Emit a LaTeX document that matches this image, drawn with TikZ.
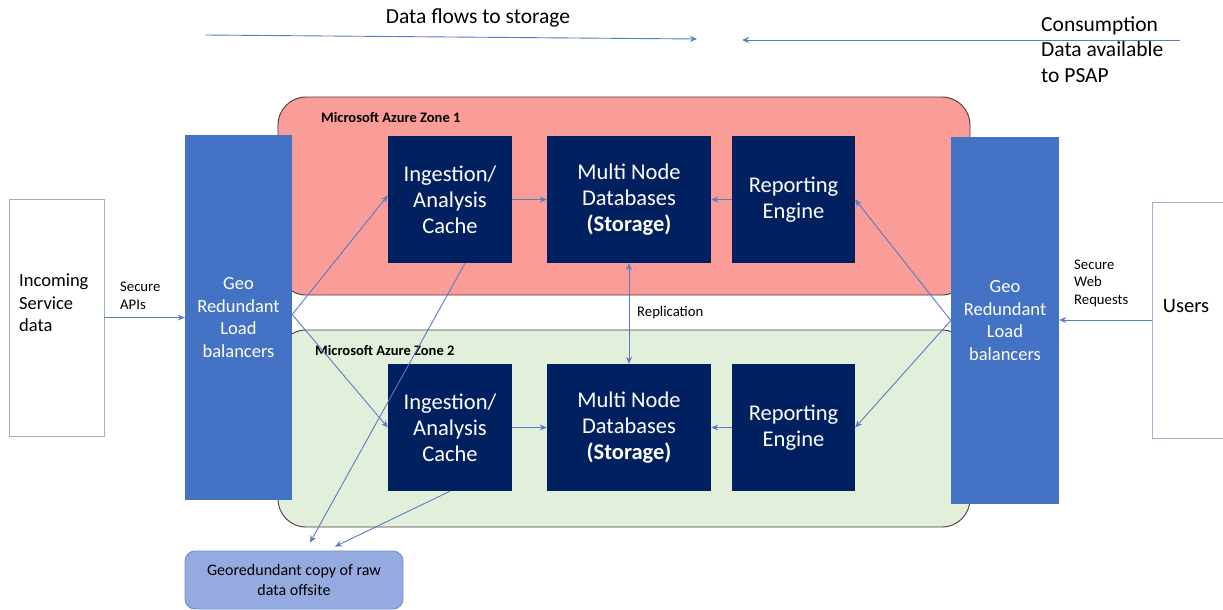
\documentclass[tikz,border=0pt]{standalone}
\usepackage{fontspec}
\setmainfont{Carlito}
\usetikzlibrary{arrows.meta}

\definecolor{navybox}{HTML}{002060}
\definecolor{lbblue}{HTML}{4472C4}
\definecolor{zonered}{HTML}{FA9C98}
\definecolor{zonegreen}{HTML}{E2EFDA}
\definecolor{offfill}{HTML}{95ABDF}
\definecolor{offline}{HTML}{7090CF}
\definecolor{plainline}{HTML}{9CB0CC}
\definecolor{flow}{HTML}{5B7CC4}
\definecolor{zoneline}{HTML}{4A3A3A}

\tikzset{
  zone/.style={draw=zoneline, line width=0.9pt, rounded corners=28pt, minimum width=692pt, inner sep=0pt},
  navy/.style={fill=navybox, text=white, minimum height=127pt, inner sep=0pt, align=center,
               font=\fontsize{22.5}{26}\selectfont},
  lb/.style={fill=lbblue, text=white, inner sep=0pt, align=center,
             font=\fontsize{18.5}{22.8}\selectfont},
  plainbox/.style={draw=plainline, fill=white, line width=0.9pt, inner sep=0pt},
  bigtxt/.style={inner sep=0pt, align=left, font=\fontsize{18.5}{22.5}\selectfont},
  smalltxt/.style={inner sep=0pt, align=left, font=\fontsize{14.7}{17.5}\selectfont},
  zonelabel/.style={inner sep=0pt, anchor=west, font=\fontsize{14.5}{16}\selectfont\bfseries},
  toptxt/.style={inner sep=0pt, align=left, font=\fontsize{21.5}{25.5}\selectfont},
  flowarrow/.style={draw=flow, line width=0.9pt, -{Stealth[length=7pt,width=6pt]}},
}

\begin{document}
\begin{tikzpicture}[x=1pt, y=-1pt]
\clip (0,0) rectangle (1223,610);
\fill[white] (0,0) rectangle (1223,610);

% availability zones
\node[zone, fill=zonered, minimum height=198pt] (z1) at (624,196) {};
\node[zone, fill=zonegreen, minimum height=197pt] (z2) at (624,428.5) {};
\node[zonelabel] (z1lab) at (321,117) {Microsoft Azure Zone 1};
\node[zonelabel] (z2lab) at (315,350) {Microsoft Azure Zone 2};

% outside parties
\node[plainbox, minimum width=95pt, minimum height=237pt] (inc) at (56.5,317.5) {};
\node[bigtxt, anchor=west] (inctxt) at (19,303) {Incoming\\Service\\data};
\node[plainbox, minimum width=80pt, minimum height=236pt] (users) at (1192,320) {};
\node[bigtxt, font=\fontsize{20.5}{24}\selectfont, anchor=center] (userstxt) at (1186,306) {Users};

% load balancers
\node[lb, minimum width=107pt, minimum height=365pt] (lbL) at (238.5,317.5) {Geo\\Redundant\\Load\\balancers};
\node[lb, minimum width=108pt, minimum height=367pt] (lbR) at (1005,320.5) {Geo\\Redundant\\Load\\balancers};

% zone 1 services
\node[navy, minimum width=124pt] (ing1) at (450,199.5) {Ingestion/\\Analysis\\Cache};
\node[navy, minimum width=164pt] (db1) at (629,199.5) {Multi Node\\Databases\\\textbf{(Storage)}};
\node[navy, minimum width=123pt] (rep1) at (793.5,199.5) {Reporting\\Engine};

% zone 2 services
\node[navy, minimum width=124pt] (ing2) at (450,427.5) {Ingestion/\\Analysis\\Cache};
\node[navy, minimum width=164pt] (db2) at (629,427.5) {Multi Node\\Databases\\\textbf{(Storage)}};
\node[navy, minimum width=123pt] (rep2) at (793.5,427.5) {Reporting\\Engine};

% offsite copy
\node[draw=offline, fill=offfill, line width=0.9pt, rounded corners=10pt, minimum width=218pt,
      minimum height=58pt, inner sep=0pt, align=center, font=\fontsize{16}{20}\selectfont]
      (off) at (294,580) {Georedundant copy of raw\\data offsite};

% top direction arrows and captions
\coordinate (dfA) at (205,35);
\coordinate (dfB) at (697,39);
\coordinate (csA) at (1180,40);
\coordinate (csB) at (742,40);
\draw[flowarrow] (dfA) -- (dfB);
\draw[flowarrow] (csA) -- (csB);
\node[toptxt, anchor=center] (dftxt) at (478,18) {Data flows to storage};
\node[toptxt, anchor=north west] (cstxt) at (1041,16) {Consumption\\Data available\\to PSAP};

% inbound requests
\draw[flowarrow] (inc.east) -- (lbL.west);
\node[smalltxt, anchor=west] (apitxt) at (120,296) {Secure\\APIs};
\draw[flowarrow] (users.west) -- (lbR.east |- users.west);
\node[smalltxt, anchor=west] (webtxt) at (1074,283) {Secure\\Web\\Requests};

% load balancer fan-out
\draw[flowarrow] ([yshift=3pt]lbL.east) -- ([yshift=4pt]ing1.west);
\draw[flowarrow] ([yshift=3pt]lbL.east) -- (ing2.west);
\draw[flowarrow] (lbR.west) -- (rep1.east);
\draw[flowarrow] (lbR.west) -- (rep2.east);

% flows into storage
\draw[flowarrow] (ing1.east) -- (db1.west);
\draw[flowarrow] (rep1.west) -- (db1.east);
\draw[flowarrow] (ing2.east) -- (db2.west);
\draw[flowarrow] (rep2.west) -- (db2.east);

% replication between zones
\draw[draw=flow, line width=1pt, {Stealth[length=7pt,width=6pt]}-{Stealth[length=7pt,width=6pt]}] (db1.south) -- (db2.north);
\node[smalltxt, anchor=west] (reptxt) at (637,313) {Replication};

% raw copies offsite
\draw[flowarrow] ([xshift=15pt]ing1.south) -- ([xshift=16pt,yshift=8pt]off.north);
\draw[flowarrow] (ing2.south) -- ([xshift=41pt,yshift=4pt]off.north);
\end{tikzpicture}
\end{document}
